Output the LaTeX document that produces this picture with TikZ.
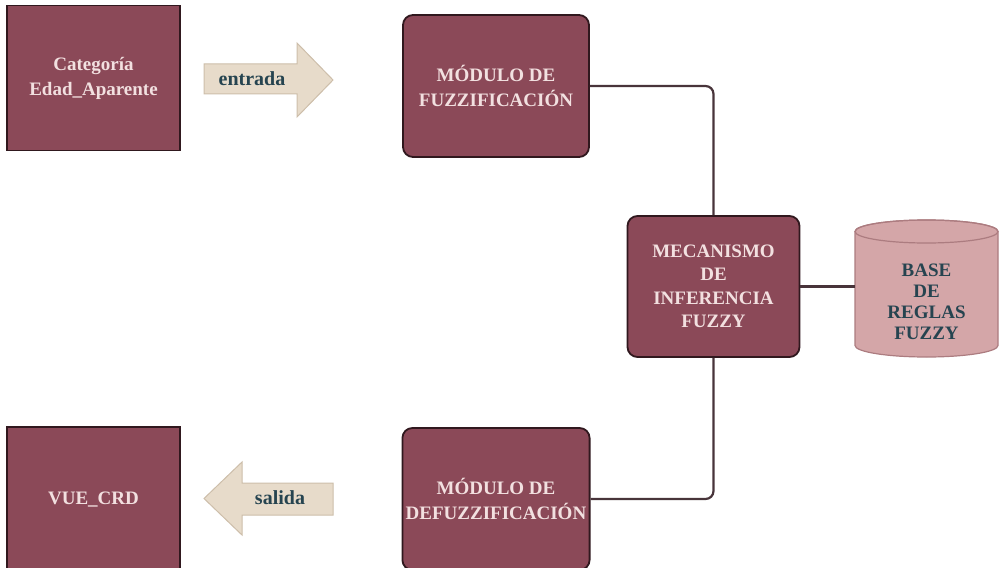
\documentclass[tikz,border=0pt]{standalone}
\usepackage{fontspec}
\setmainfont{Liberation Serif}
\definecolor{vino}{RGB}{139,73,88}
\definecolor{borde}{RGB}{48,24,30}
\definecolor{rosatxt}{RGB}{242,224,224}
\definecolor{beige}{RGB}{231,219,202}
\definecolor{beigeb}{RGB}{205,190,170}
\definecolor{rosa}{RGB}{212,166,168}
\definecolor{rosab}{RGB}{172,124,128}
\definecolor{azultxt}{RGB}{38,68,80}
\definecolor{linea}{RGB}{72,52,58}
\begin{document}
\begin{tikzpicture}[x=1pt,y=-1pt,
    caja/.style={draw=borde,fill=vino,line width=1.8pt,text=rosatxt,align=center,
      font=\bfseries\fontsize{19}{25}\selectfont},
    entsal/.style={caja,minimum width=173pt,minimum height=145pt},
    modulo/.style={caja,rounded corners=10pt,minimum width=186pt,minimum height=142pt},
    flecha/.style={draw=beigeb,fill=beige,line width=1pt},
    rotulo/.style={text=azultxt,font=\bfseries\fontsize{20}{24}\selectfont},
    conexion/.style={linea,line width=2.2pt}]
	    \useasboundingbox (0,0) rectangle (1000,567);
	    % entrada / salida
	    \node[entsal] (cat) at (93.5,78) {Categoría\\Edad\_Aparente};
	    \node[entsal] (vue) at (93.5,499.5) {VUE\_CRD};
	    \filldraw[flecha](204,64)--(297,64)--(297,43)--(333,80)--(297,117)--(297,94)--(204,94)--cycle;
	    \filldraw[flecha](333,483)--(242,483)--(242,462)--(204,498.5)--(242,535)--(242,515)--(333,515)--cycle;
	    \node[rotulo] (ent) at (252,79) {entrada};
	    \node[rotulo] (sal) at (280,498) {salida};
	    % modulos
	    \node[modulo] (fuz) at (496,86) {MÓDULO DE\\FUZZIFICACIÓN};
	    \node[modulo] (defuz) at (496,499) {MÓDULO DE\\DEFUZZIFICACIÓN};
	    \node[caja,rounded corners=10pt,minimum width=172pt,minimum height=141pt,
	      font=\bfseries\fontsize{19}{23.5}\selectfont] (mec) at (713.5,286.5)
	      {MECANISMO\\DE\\INFERENCIA\\FUZZY};
	    % base de reglas (cilindro)
	    \filldraw[draw=rosab,fill=rosa,line width=1.2pt](855,231.5)--(855,345.5)
	      arc[start angle=180,end angle=360,x radius=71.5pt,y radius=11.5pt]--(998,231.5)
	      arc[start angle=0,end angle=180,x radius=71.5pt,y radius=11.5pt]--cycle;
	    \draw[rosab,line width=1.2pt](926.5,231.5) ellipse[x radius=71.5pt,y radius=11.5pt];
	    \node[minimum width=143pt,text=azultxt,align=center,font=\bfseries\fontsize{19}{21}\selectfont]
	      (base) at (926.5,302) {BASE\\DE\\REGLAS\\FUZZY};
	    % conexiones
	    \draw[conexion,rounded corners=8pt](fuz.east)-|(mec.north);
	    \draw[conexion,rounded corners=8pt](defuz.east)-|(mec.south);
	    \draw[conexion](mec.east)--(mec.east-|base.west);
	\end{tikzpicture}
\end{document}
